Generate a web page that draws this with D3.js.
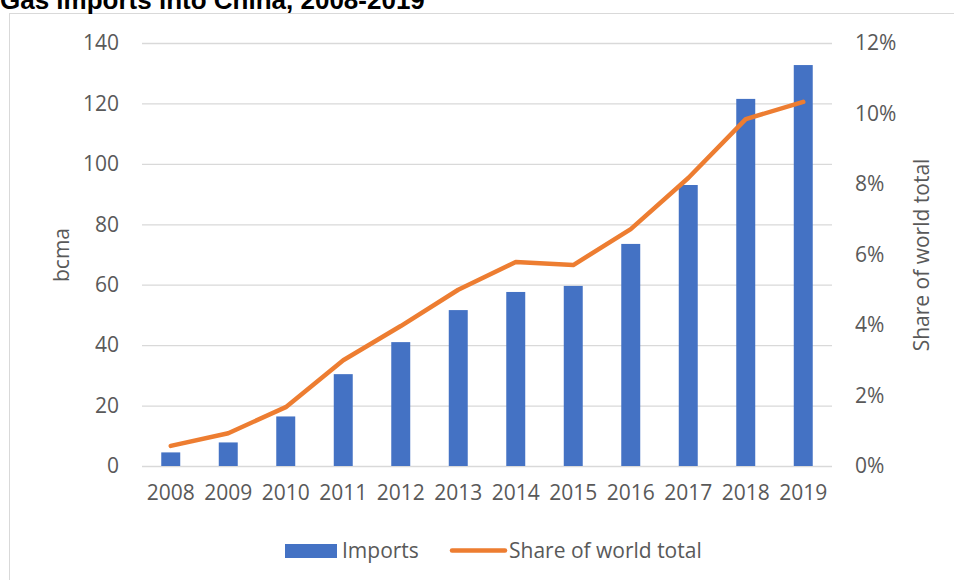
<!DOCTYPE html>
<html><head><meta charset="utf-8">
<script src="https://cdn.jsdelivr.net/npm/d3@7"></script>
<style>body{margin:0;background:#fff}svg{display:block}</style>
</head><body>
<svg id="c" width="954" height="580"></svg>
<script>
const years = ["2008","2009","2010","2011","2012","2013","2014","2015","2016","2017","2018","2019"];
const imports = [4.5, 7.8, 16.4, 30.4, 41.0, 51.6, 57.6, 59.6, 73.5, 93.0, 121.5, 132.7];
const share = [0.57, 0.93, 1.67, 3.0, 3.97, 5.0, 5.79, 5.7, 6.72, 8.17, 9.84, 10.33];
const leftTicks = [0,20,40,60,80,100,120,140];
const rightTicks = [0,2,4,6,8,10,12];
const title = "Gas imports into China, 2008-2019";

const svg = d3.select("#c");
const font = "'Open Sans', sans-serif";
const fs = 21;
const grey = "#595959";
const m = {l:142, r:832, t:43, b:466};

svg.append("rect").attr("x",9.5).attr("y",13.5).attr("width",960).attr("height",600)
  .attr("fill","#fff").attr("stroke","#D9D9D9");

svg.append("text").attr("x",0).attr("y",9).text(title)
  .attr("font-family","'Liberation Sans', Arial, sans-serif").attr("font-weight","bold")
  .attr("font-size",26).attr("fill","#000");

const x = d3.scaleBand().domain(years).range([m.l,m.r]).paddingInner(0.67).paddingOuter(0.335);
const y = d3.scaleLinear().domain([0,140]).range([m.b,m.t]);
const y2 = d3.scaleLinear().domain([0,12]).range([m.b,m.t]);

// gridlines
const gl = svg.append("g").attr("transform",`translate(${m.l},0)`)
  .call(d3.axisLeft(y).tickValues(leftTicks).tickSize(-(m.r-m.l)).tickFormat(""));
gl.select(".domain").remove();
gl.selectAll("line").attr("stroke","#D9D9D9").attr("stroke-width",1.3);

// bars
svg.append("g").selectAll("rect").data(imports).join("rect")
  .attr("x",(d,i)=>x(years[i])).attr("width",x.bandwidth())
  .attr("y",d=>y(d)).attr("height",d=>y(0)-y(d)).attr("fill","#4472C4");

// line
const xc = d=>x(d)+x.bandwidth()/2;
svg.append("path").datum(share)
  .attr("d",d3.line().x((d,i)=>xc(years[i])).y(d=>y2(d)))
  .attr("fill","none").attr("stroke","#ED7D31").attr("stroke-width",4.5)
  .attr("stroke-linecap","round").attr("stroke-linejoin","round");

// left axis
const ax = svg.append("g").attr("transform",`translate(${m.l},0)`)
  .call(d3.axisLeft(y).tickValues(leftTicks).tickSize(0).tickPadding(23));
ax.select(".domain").remove();
ax.selectAll("text").attr("font-family",font).attr("font-size",fs).attr("fill",grey);

// right axis
const ar = svg.append("g").attr("transform",`translate(${m.r},0)`)
  .call(d3.axisRight(y2).tickValues(rightTicks).tickSize(0).tickPadding(23).tickFormat(d=>d+"%"));
ar.select(".domain").remove();
ar.selectAll("text").attr("font-family",font).attr("font-size",fs).attr("fill",grey);

// x axis
const axb = svg.append("g").attr("transform",`translate(0,${m.b})`)
  .call(d3.axisBottom(x).tickSize(0).tickPadding(19));
axb.select(".domain").remove();
axb.selectAll("text").attr("font-family",font).attr("font-size",fs).attr("fill",grey);

// axis titles
svg.append("text").attr("transform","translate(69,255) rotate(-90)").attr("text-anchor","middle")
  .attr("font-family",font).attr("font-size",fs).attr("fill",grey).text("bcma");
svg.append("text").attr("transform","translate(929,255) rotate(-90)").attr("text-anchor","middle")
  .attr("font-family",font).attr("font-size",fs).attr("fill",grey).text("Share of world total");

// legend
const lg = svg.append("g");
lg.append("rect").attr("x",285).attr("y",544).attr("width",52).attr("height",14).attr("fill","#4472C4");
lg.append("text").attr("x",342).attr("y",558).attr("font-family",font).attr("font-size",fs).attr("fill",grey).text("Imports");
lg.append("line").attr("x1",452).attr("x2",505).attr("y1",550.5).attr("y2",550.5)
  .attr("stroke","#ED7D31").attr("stroke-width",4.5).attr("stroke-linecap","round");
lg.append("text").attr("x",509).attr("y",558).attr("font-family",font).attr("font-size",fs).attr("fill",grey).text("Share of world total");
</script>
</body></html>
